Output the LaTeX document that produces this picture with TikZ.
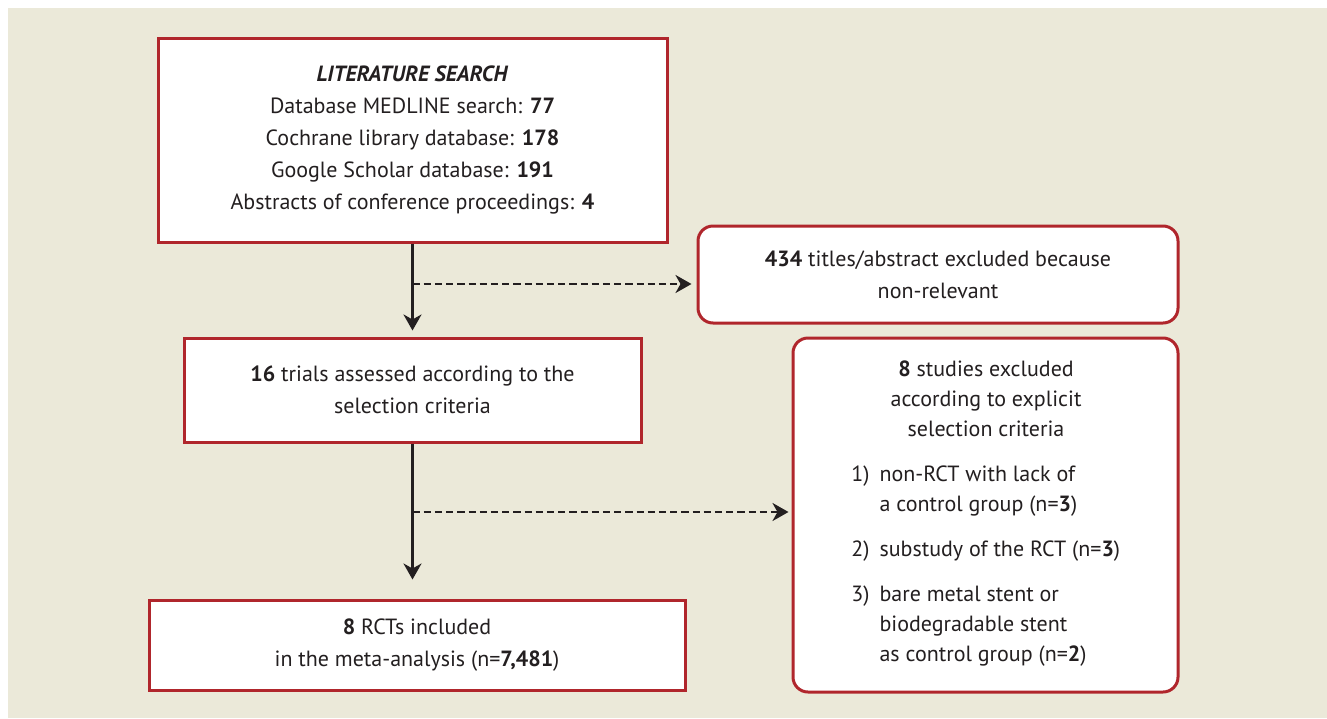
\documentclass[tikz,border=0pt]{standalone}
\usepackage{fontspec}
\setmainfont{PT Sans}
\usetikzlibrary{arrows.meta}
\definecolor{bgc}{HTML}{EBE9D9}
\definecolor{boxred}{HTML}{B0262C}
\definecolor{ink}{HTML}{231F20}
\begin{document}
\begin{tikzpicture}[x=0.5pt,y=-0.5pt,
  every node/.style={text=ink,font=\fontsize{11}{16}\selectfont},
  sqbox/.style={draw=boxred,line width=1.5pt,fill=white,align=center,inner sep=0pt},
  rdbox/.style={sqbox,rounded corners=7.5pt},
  listtxt/.style={anchor=north west,inner sep=0pt,font=\fontsize{11}{15}\selectfont},
  flow/.style={draw=ink,line width=1.5pt,-{Stealth[length=8pt,width=9pt,inset=2.5pt]}},
  dflow/.style={draw=ink,line width=1.3pt,dash pattern=on 3.6pt off 2pt,-{Stealth[length=8pt,width=9pt,inset=2.5pt]}}]
\useasboundingbox (0,0) rectangle (1327,718);
\fill[bgc] (8,8) rectangle (1327,718);

\node[sqbox,minimum width=254.5pt,minimum height=102pt] (lit) at (412.5,140)
  {\textbf{\textit{LITERATURE SEARCH}}\\
   Database MEDLINE search: \textbf{77}\\
   Cochrane library database: \textbf{178}\\
   Google Scholar database: \textbf{191}\\
   Abstracts of conference proceedings: \textbf{4}};

\node[rdbox,minimum width=240pt,minimum height=48.5pt] (excl1) at (938,274.5)
  {\textbf{434} titles/abstract excluded because\\ non-relevant};

\node[sqbox,minimum width=228.5pt,minimum height=52pt] (trials) at (412.5,390)
  {\textbf{16} trials assessed according to the\\ selection criteria};

\node[rdbox,minimum width=192.5pt,minimum height=177pt] (excl2) at (985.5,515) {};

\node[sqbox,minimum width=268pt,minimum height=45pt] (rcts) at (417,645)
  {\textbf{8} RCTs included\\ in the meta-analysis (n=\textbf{7,481})};

\node[align=center,font=\fontsize{11}{15}\selectfont] (hdr) at (986,399)
  {\textbf{8} studies excluded\\ according to explicit\\ selection criteria};

\node[listtxt] (it1) at (851,460)
  {\begin{tabular}[t]{@{}l@{\hspace{5pt}}l@{}}1) & non-RCT with lack of\\ & a control group (n=\textbf{3})\end{tabular}};
\node[listtxt] (it2) at (851,535)
  {\begin{tabular}[t]{@{}l@{\hspace{5pt}}l@{}}2) & substudy of the RCT (n=\textbf{3})\end{tabular}};
\node[listtxt] (it3) at (851,580)
  {\begin{tabular}[t]{@{}l@{\hspace{5pt}}l@{}}3) & bare metal stent or\\ & biodegradable stent\\ & as control group (n=\textbf{2})\end{tabular}};

\coordinate (j1) at (412.5,284);
\coordinate (j2) at (412.5,512);
\draw[flow,shorten >=3pt] (lit.south) -- (trials.north);
\draw[dflow,shorten >=2.5pt] (j1) -- (j1 -| excl1.west);
\draw[flow,shorten >=9.5pt] (trials.south) -- (trials.south |- rcts.north);
\draw[dflow,shorten >=1.5pt] (j2) -- (j2 -| excl2.west);
\end{tikzpicture}
\end{document}
